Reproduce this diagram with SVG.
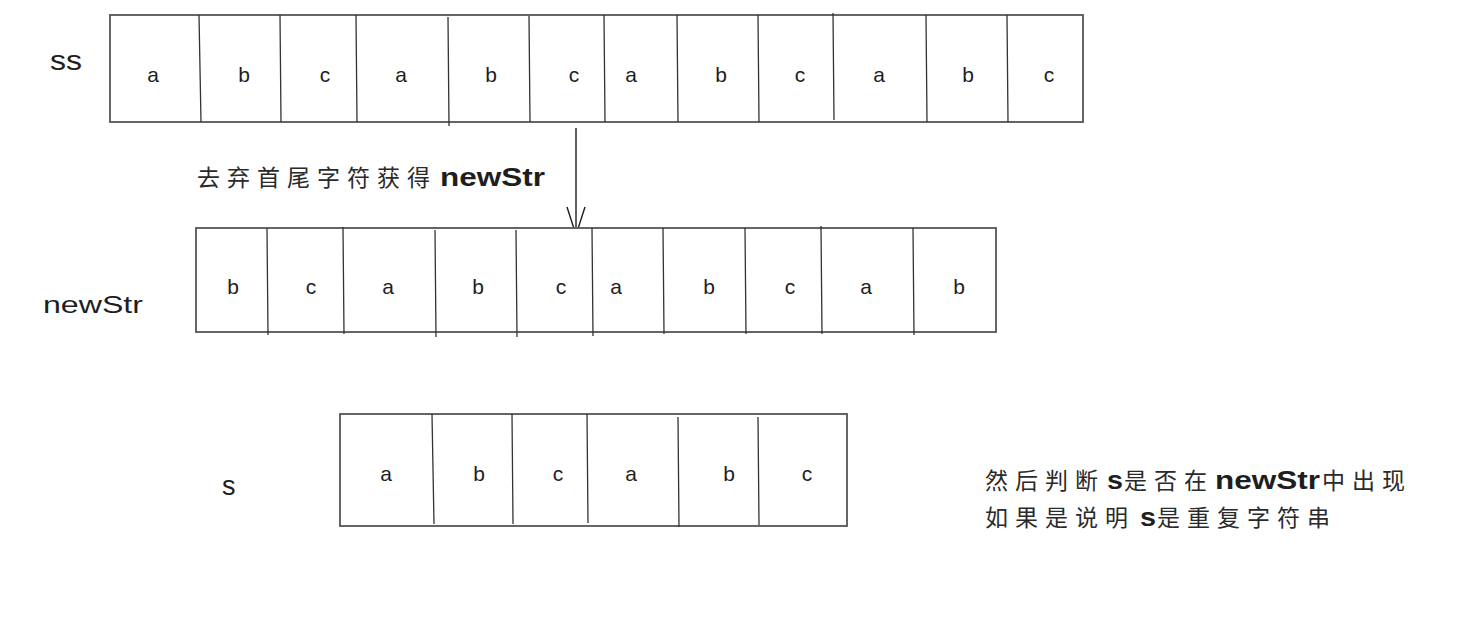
<svg xmlns="http://www.w3.org/2000/svg" width="1475" height="621" viewBox="0 0 1475 621">
<style>
.box{fill:#fff;stroke:#555;stroke-width:1.8}
.div{stroke:#333;stroke-width:1.3;fill:none}
.ch{font-family:"Liberation Sans",sans-serif;font-size:21px;fill:#1e1e1e;text-anchor:middle}
.lbl{font-family:"Liberation Sans",sans-serif;font-size:24px;fill:#1e1e1e}
.cn{font-family:"Noto Sans CJK SC",sans-serif;font-size:23px;fill:#2a2a2a;letter-spacing:7px}
.lat{font-family:"Liberation Sans",sans-serif;font-size:26px;font-weight:bold;fill:#1e1e1e}
.conn{stroke:#1e1e1e;stroke-width:1.4;fill:none}
</style>
<rect width="1475" height="621" fill="#fff"/>
<g id="ss-label"><text class="lbl" x="50" y="70" textLength="32" lengthAdjust="spacingAndGlyphs" style="font-size:27px">ss</text></g>
<g id="ss-array">
<rect class="box" x="110" y="15" width="973" height="107"/>
<path class="div" d="M199 15L201 122M280 15L281 122M356 15L357 122M448 17L449 126M529 16L530 122M604 15L605 122M677 15L678 122M758 15L759 122M833 13L834 120M926 15L927 122M1007 15L1008 122"/>
<text class="ch" x="153" y="82">a</text><text class="ch" x="244" y="82">b</text><text class="ch" x="325" y="82">c</text>
<text class="ch" x="401" y="82">a</text><text class="ch" x="491" y="82">b</text><text class="ch" x="574" y="82">c</text>
<text class="ch" x="631" y="82">a</text><text class="ch" x="721" y="82">b</text><text class="ch" x="800" y="82">c</text>
<text class="ch" x="879" y="82">a</text><text class="ch" x="968" y="82">b</text><text class="ch" x="1049" y="82">c</text>
</g>
<g id="connectors">
<line class="conn" x1="576" y1="128" x2="576" y2="235"/>
<polyline class="conn" points="567,207 576,235 585,207"/>
</g>
<g id="step-label">
<text class="cn" x="197" y="186">去弃首尾字符获得</text>
<text class="lat" x="440" y="186" textLength="105" lengthAdjust="spacingAndGlyphs">newStr</text>
</g>
<g id="newStr-label"><text class="lbl" x="43" y="313" textLength="100" lengthAdjust="spacingAndGlyphs">newStr</text></g>
<g id="newStr-array">
<rect class="box" x="196" y="228" width="800" height="104"/>
<path class="div" d="M267 228L268 335M343 227L344 334M435 230L436 337M516 230L517 337M592 228L593 336"/>
<path class="div" d="M663 228L664 334M745 228L746 334M821 226L822 334M913 228L914 335"/>
<text class="ch" x="233" y="294">b</text><text class="ch" x="311" y="294">c</text><text class="ch" x="388" y="294">a</text>
<text class="ch" x="478" y="294">b</text><text class="ch" x="561" y="294">c</text><text class="ch" x="616" y="294">a</text>
<text class="ch" x="709" y="294">b</text><text class="ch" x="790" y="294">c</text><text class="ch" x="866" y="294">a</text>
<text class="ch" x="959" y="294">b</text>
</g>
<g id="s-label"><text class="lbl" x="222" y="495" style="font-size:27px">s</text></g>
<g id="s-array">
<rect class="box" x="340" y="414" width="507" height="112"/>
<path class="div" d="M432 414L434 524M512 414L513 524M587 414L588 523M678 417L679 527M758 417L759 525"/>
<text class="ch" x="386" y="481">a</text><text class="ch" x="479" y="481">b</text><text class="ch" x="558" y="481">c</text>
<text class="ch" x="631" y="481">a</text><text class="ch" x="729" y="481">b</text><text class="ch" x="807" y="481">c</text>
</g>
<g id="note">
<text x="985" y="489"><tspan class="cn">然后判断</tspan><tspan class="lat" x="1107" textLength="16" lengthAdjust="spacingAndGlyphs">s</tspan><tspan class="cn" x="1124">是否在</tspan><tspan class="lat" x="1215" textLength="105" lengthAdjust="spacingAndGlyphs">newStr</tspan><tspan class="cn" x="1322">中出现</tspan></text>
<text x="985" y="526"><tspan class="cn">如果是说明</tspan><tspan class="lat" x="1140" textLength="16" lengthAdjust="spacingAndGlyphs">s</tspan><tspan class="cn" x="1157">是重复字符串</tspan></text>
</g>
</svg>
